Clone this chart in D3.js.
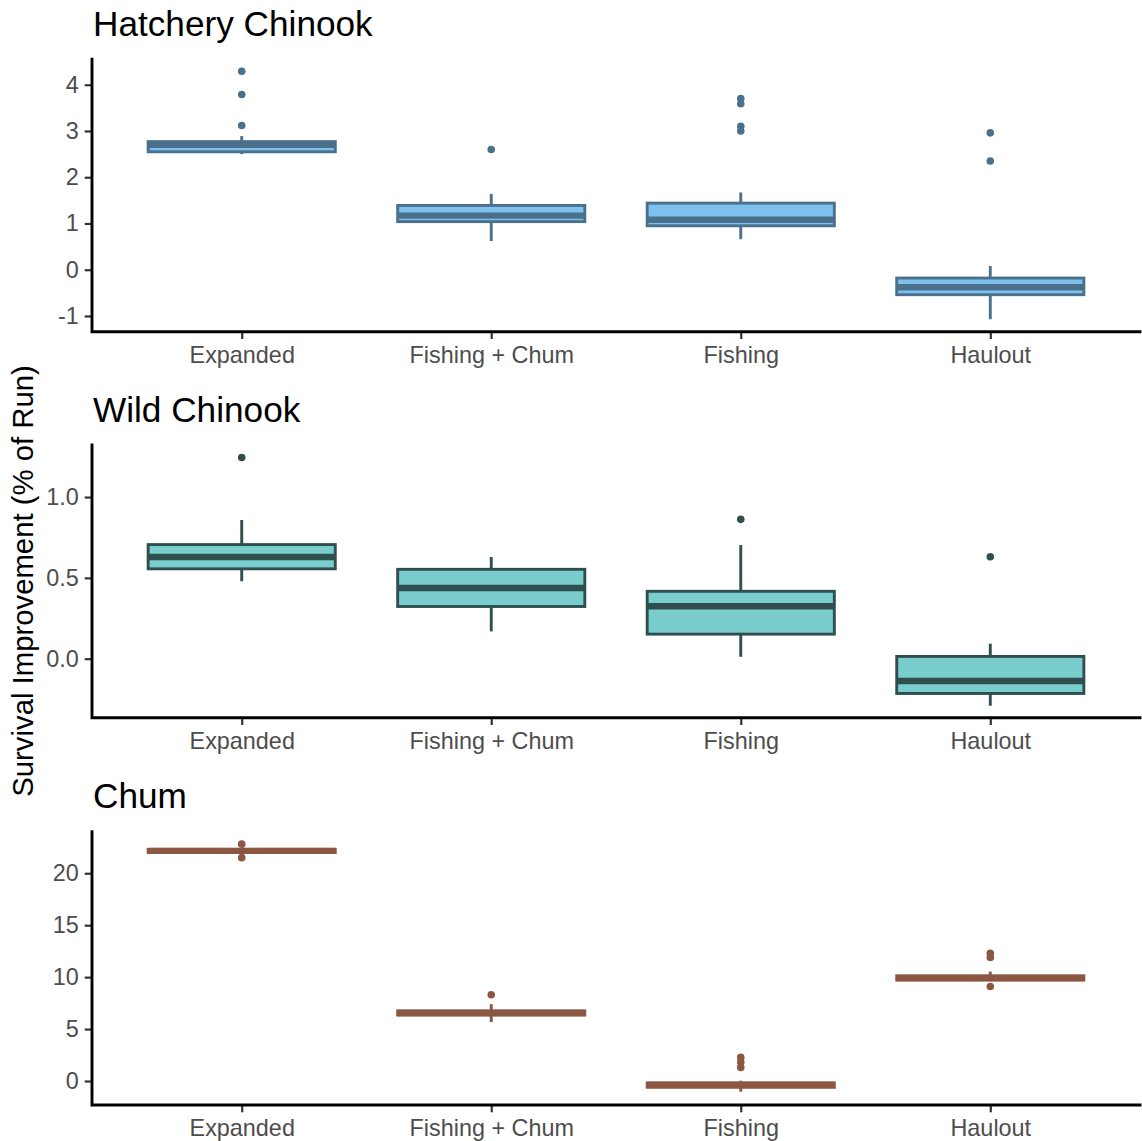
<!DOCTYPE html>
<html>
<head>
<meta charset="utf-8">
<script src="https://cdn.jsdelivr.net/npm/d3@7"></script>
<style>
  html, body { margin: 0; padding: 0; background: #ffffff; }
  svg { display: block; }
  text { font-family: "Liberation Sans", Arial, Helvetica, sans-serif; }
</style>
</head>
<body>
<script>
// ---------------- data ----------------
const categories = ["Expanded", "Fishing + Chum", "Fishing", "Haulout"];

// [lower whisker, Q1, median, Q3, upper whisker] per category
const hatcheryStats = [
  [2.50, 2.55, 2.70, 2.77, 2.89],
  [0.62, 1.04, 1.17, 1.39, 1.64],
  [0.66, 0.95, 1.08, 1.44, 1.67],
  [-1.07, -0.54, -0.38, -0.18, 0.08]
];
const hatcheryOutliers = [
  [4.29, 3.79, 3.12],
  [2.60],
  [3.70, 3.59, 3.10, 3.00],
  [2.96, 2.35]
];

const wildStats = [
  [0.479, 0.556, 0.629, 0.706, 0.858],
  [0.169, 0.323, 0.437, 0.553, 0.629],
  [0.012, 0.152, 0.324, 0.417, 0.703],
  [-0.291, -0.215, -0.138, 0.014, 0.093]
];
const wildOutliers = [
  [1.245],
  [],
  [0.862],
  [0.631]
];

const chumStats = [
  [21.95, 22.0, 22.15, 22.3, 22.35],
  [5.67, 6.35, 6.55, 6.75, 7.4],
  [-1.03, -0.6, -0.38, -0.18, 0.03],
  [9.6, 9.72, 9.92, 10.12, 10.54]
];
const chumOutliers = [
  [22.8, 21.5],
  [8.3],
  [2.27, 1.83, 1.31],
  [12.3, 11.9, 9.1]
];

const hatcheryTicks = [-1, 0, 1, 2, 3, 4];
const hatcheryTickLabels = ["-1", "0", "1", "2", "3", "4"];
const wildTicks = [0, 0.5, 1.0];
const wildTickLabels = ["0.0", "0.5", "1.0"];
const chumTicks = [0, 5, 10, 15, 20];
const chumTickLabels = ["0", "5", "10", "15", "20"];

const panelTitles = ["Hatchery Chinook", "Wild Chinook", "Chum"];
const yTitle = "Survival Improvement (% of Run)";

// ---------------- layout ----------------
const W = 1142, H = 1141;
const xLeft = 92, xRight = 1140;

const panels = [
  { title: panelTitles[0], stats: hatcheryStats, outliers: hatcheryOutliers,
    ticks: hatcheryTicks, labels: hatcheryTickLabels,
    domain: [-1.34, 4.55], top: 59.3, bottom: 331.7,
    fill: "#7EC0EE", stroke: "#4A708B" },
  { title: panelTitles[1], stats: wildStats, outliers: wildOutliers,
    ticks: wildTicks, labels: wildTickLabels,
    domain: [-0.365, 1.322], top: 445, bottom: 717.7,
    fill: "#79CDCD", stroke: "#2F4F4F" },
  { title: panelTitles[2], stats: chumStats, outliers: chumOutliers,
    ticks: chumTicks, labels: chumTickLabels,
    domain: [-2.31, 24.0], top: 831.7, bottom: 1105,
    fill: "#8B5742", stroke: "#8B5742" }
];

const svg = d3.select("body").append("svg")
  .attr("width", W).attr("height", H)
  .attr("viewBox", `0 0 ${W} ${H}`);

svg.append("rect").attr("width", W).attr("height", H).attr("fill", "#ffffff");

const x = d3.scalePoint().domain(categories).range([xLeft, xRight]).padding(0.6);
const boxW = x.step() * 0.75;

const tickFont = 23.4, titleFont = 35.2, axisTitleFont = 29.3;
const lineW = 2.9, medW = 6.4;

panels.forEach(p => {
  const y = d3.scaleLinear().domain(p.domain).range([p.bottom, p.top]);
  const g = svg.append("g");

  // title
  g.append("text")
    .attr("x", xLeft + 1)
    .attr("y", p.top - 23.5)
    .attr("font-size", titleFont)
    .attr("fill", "#000000")
    .text(p.title);

  // boxes
  const boxes = g.append("g");
  categories.forEach((c, i) => {
    const [lo, q1, med, q3, hi] = p.stats[i];
    const cx = x(c);
    const bg = boxes.append("g");
    // whiskers
    bg.append("line")
      .attr("x1", cx).attr("x2", cx)
      .attr("y1", y(q3)).attr("y2", y(hi))
      .attr("stroke", p.stroke).attr("stroke-width", lineW);
    bg.append("line")
      .attr("x1", cx).attr("x2", cx)
      .attr("y1", y(q1)).attr("y2", y(lo))
      .attr("stroke", p.stroke).attr("stroke-width", lineW);
    // box
    bg.append("rect")
      .attr("x", cx - boxW / 2)
      .attr("y", y(q3))
      .attr("width", boxW)
      .attr("height", Math.max(0, y(q1) - y(q3)))
      .attr("fill", p.fill)
      .attr("stroke", p.stroke)
      .attr("stroke-width", lineW);
    // median
    bg.append("line")
      .attr("x1", cx - boxW / 2).attr("x2", cx + boxW / 2)
      .attr("y1", y(med)).attr("y2", y(med))
      .attr("stroke", p.stroke).attr("stroke-width", medW);
    // outliers
    bg.selectAll("circle.out")
      .data(p.outliers[i])
      .enter().append("circle")
      .attr("class", "out")
      .attr("cx", cx)
      .attr("cy", d => y(d))
      .attr("r", 3.8)
      .attr("fill", p.stroke);
  });

  // y axis
  const yAxis = d3.axisLeft(y)
    .tickValues(p.ticks)
    .tickFormat((d, i) => p.labels[i])
    .tickSize(7.3).tickSizeOuter(0).tickPadding(6);
  const ya = g.append("g").attr("transform", `translate(${xLeft},0)`).call(yAxis);
  ya.select(".domain").remove();
  ya.selectAll(".tick line").attr("stroke", "#333333").attr("stroke-width", 2.2);
  ya.selectAll(".tick text")
    .attr("font-size", tickFont)
    .attr("fill", "#4D4D4D")
    .attr("font-family", "'Liberation Sans', Arial, Helvetica, sans-serif");

  // x axis
  const xAxis = d3.axisBottom(x).tickSize(7.3).tickSizeOuter(0).tickPadding(7);
  const xa = g.append("g").attr("transform", `translate(0,${p.bottom})`).call(xAxis);
  xa.select(".domain").remove();
  xa.selectAll(".tick line").attr("stroke", "#333333").attr("stroke-width", 2.2);
  xa.selectAll(".tick text")
    .attr("font-size", tickFont)
    .attr("fill", "#4D4D4D")
    .attr("font-family", "'Liberation Sans', Arial, Helvetica, sans-serif");

  // axis lines
  g.append("path")
    .attr("d", `M${xLeft},${p.top}V${p.bottom}H${xRight}`)
    .attr("fill", "none")
    .attr("stroke", "#000000")
    .attr("stroke-width", lineW)
    .attr("stroke-linejoin", "miter")
    .attr("stroke-linecap", "square");
});

// y axis title
svg.append("text")
  .attr("transform", `translate(33,581) rotate(-90)`)
  .attr("text-anchor", "middle")
  .attr("font-size", axisTitleFont)
  .attr("fill", "#000000")
  .text(yTitle);
</script>
</body>
</html>
